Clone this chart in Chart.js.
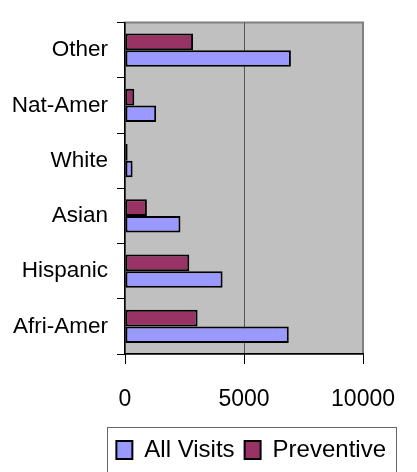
<!DOCTYPE html>
<html>
<head>
<meta charset="utf-8">
<script src="https://cdn.jsdelivr.net/npm/chart.js@4/dist/chart.umd.min.js"></script>
<style>
  html, body { margin: 0; padding: 0; background: #fff; }
  #wrap { width: 417px; height: 472px; }
</style>
</head>
<body>
<div id="wrap"><canvas id="c" width="417" height="472"></canvas></div>
<script>
const categories = ["Other", "Nat-Amer", "White", "Asian", "Hispanic", "Afri-Amer"];
const allVisits = [6970, 1310, 320, 2330, 4100, 6880];
const preventive = [2860, 390, 110, 920, 2700, 3050];
const xTicks = [0, 5000, 10000];

const FONT = "'Liberation Sans', Arial, sans-serif";

const plotBg = {
  id: 'plotBg',
  beforeDraw(chart) {
    const { ctx, chartArea: a } = chart;
    ctx.save();
    ctx.fillStyle = '#C0C0C0';
    ctx.fillRect(a.left, a.top, a.right - a.left, a.bottom - a.top);
    ctx.strokeStyle = '#808080';
    ctx.lineWidth = 2;
    ctx.strokeRect(a.left, a.top, a.right - a.left, a.bottom - a.top);
    ctx.restore();
  }
};

const legendFrame = {
  id: 'legendFrame',
  afterDraw(chart) {
    const lg = chart.legend;
    if (!lg || !lg.legendHitBoxes || !lg.legendHitBoxes.length) return;
    const hb = lg.legendHitBoxes;
    let l = Infinity, r = -Infinity, t = Infinity;
    hb.forEach(b => { l = Math.min(l, b.left); r = Math.max(r, b.left + b.width); t = Math.min(t, b.top); });
    const ctx = chart.ctx;
    ctx.save();
    ctx.strokeStyle = '#666';
    ctx.lineWidth = 1;
    ctx.strokeRect(Math.round(l - 9) + 0.5, Math.round(t - 11) + 0.5, Math.round(r - l + 19), 80);
    ctx.restore();
  }
};

new Chart(document.getElementById('c'), {
  type: 'bar',
  data: {
    labels: categories,
    datasets: [
      { label: 'Preventive', data: preventive, backgroundColor: '#993366', borderColor: '#000', borderWidth: 2, borderSkipped: false },
      { label: 'All Visits', data: allVisits, backgroundColor: '#9999FF', borderColor: '#000', borderWidth: 2, borderSkipped: false }
    ]
  },
  options: {
    indexAxis: 'y',
    responsive: false,
    animation: false,
    devicePixelRatio: 1,
    layout: { padding: { top: 9, right: 21, left: 0, bottom: 0 } },
    datasets: { bar: { categoryPercentage: 0.6, barPercentage: 1.0 } },
    scales: {
      x: {
        min: 0, max: 10000,
        afterBuildTicks(scale) { scale.ticks = xTicks.map(v => ({ value: v })); },
        grid: {
          color: ctx => (ctx.tick && ctx.tick.value === 5000) ? '#555' : 'rgba(0,0,0,0)',
          lineWidth: 1,
          tickColor: '#000',
          tickLength: 10,
          drawTicks: true
        },
        border: { color: '#000', width: 1.5 },
        ticks: { color: '#000', font: { family: FONT, size: 23 }, padding: 22, maxRotation: 0,
                 callback: v => String(v) },
        afterFit(scale) { scale.height = 74; }
      },
      y: {
        grid: { offset: true, drawOnChartArea: false, tickColor: '#000', tickLength: 8 },
        border: { color: '#000', width: 1.5 },
        ticks: { color: '#000', font: { family: FONT, size: 22.5 }, padding: 9 },
        afterFit(scale) { scale.width = 125; }
      },
      spacer: {
        type: 'linear',
        axis: 'y',
        position: 'right',
        display: true,
        grid: { display: false, drawTicks: false },
        border: { display: false },
        ticks: { display: false },
        afterFit(scale) { scale.width = 18; }
      }
    },
    plugins: {
      legend: {
        position: 'bottom',
        align: 'end',
        reverse: true,
        labels: {
          boxWidth: 16, boxHeight: 18, padding: 10, color: '#000',
          font: { family: FONT, size: 24 }
        }
      },
      tooltip: { enabled: false }
    }
  },
  plugins: [plotBg, legendFrame]
});
</script>
</body>
</html>
